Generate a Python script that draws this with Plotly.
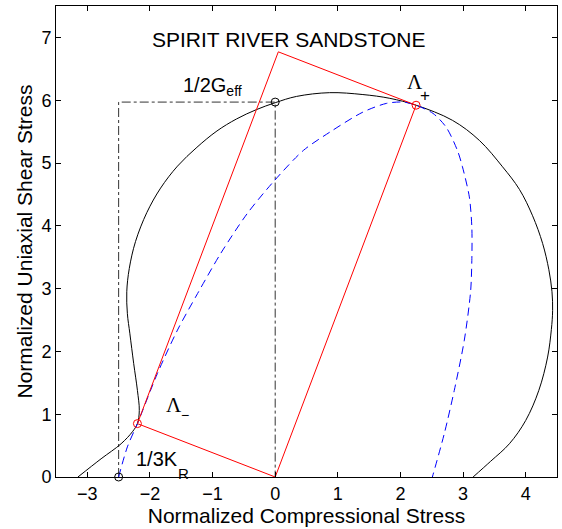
import plotly.graph_objects as go

# Black solid curve (yield / envelope)
black_x = [-3.15, -2.78, -2.46, -2.28, -2.20, -2.17, -2.20, -2.26, -2.32, -2.36, -2.37, -2.33,
           -2.23, -2.05, -1.83, -1.56, -1.25, -0.93, -0.62, -0.30, 0.00, 0.34, 0.87, 1.40, 1.83,
           2.25, 2.83, 3.26, 3.63, 3.90, 4.11, 4.27, 4.37, 4.42, 4.43, 4.41, 4.35, 4.21, 4.00,
           3.74, 3.44, 3.16]
black_y = [0.00, 0.29, 0.53, 0.72, 0.85, 1.06, 1.38, 1.81, 2.28, 2.60, 2.95, 3.32,
           3.75, 4.21, 4.60, 4.95, 5.25, 5.51, 5.70, 5.85, 5.96, 6.06, 6.12, 6.09, 6.03,
           5.92, 5.68, 5.36, 4.94, 4.58, 4.16, 3.72, 3.30, 2.95, 2.65, 2.35, 1.91, 1.38, 0.90,
           0.53, 0.25, 0.00]

# Blue dashed curve
blue_x = [-2.50, -2.36, -2.20, -1.88, -1.56, -1.24, -0.87, -0.45, -0.03, 0.45, 0.87, 1.40,
          1.78, 2.05, 2.25, 2.52, 2.73, 2.91, 2.99, 3.10, 3.14, 3.14, 3.12, 3.02, 2.86, 2.70, 2.51]
blue_y = [0.00, 0.48, 0.85, 1.65, 2.34, 2.92, 3.56, 4.19, 4.70, 5.20, 5.49, 5.81,
          5.95, 5.97, 5.92, 5.79, 5.57, 5.20, 4.94, 4.46, 3.98, 3.45, 2.95, 2.18, 1.38, 0.69, 0.00]

# Key points
lam_minus = (-2.20, 0.85)
lam_plus = (2.25, 5.92)
origin = (0.0, 0.0)
g_eff = (0.0, 5.97)
k_r = (-2.50, 0.0)

# Red parallelogram
red_x = [origin[0], lam_minus[0], lam_minus[0] + lam_plus[0], lam_plus[0], origin[0]]
red_y = [origin[1], lam_minus[1], lam_minus[1] + lam_plus[1], lam_plus[1], origin[1]]

# Dash-dot guide lines
guide_x = [k_r[0], k_r[0], g_eff[0], g_eff[0]]
guide_y = [k_r[1], g_eff[1], g_eff[1], 0.0]

fig = go.Figure()
fig.add_trace(go.Scatter(x=guide_x, y=guide_y, mode="lines",
                         line=dict(color="#333333", width=1, dash="dashdot")))
fig.add_trace(go.Scatter(x=black_x, y=black_y, mode="lines",
                         line=dict(color="black", width=1, shape="spline", smoothing=1.0)))
fig.add_trace(go.Scatter(x=blue_x, y=blue_y, mode="lines",
                         line=dict(color="#0000ff", width=1, dash="8px,5px", shape="spline", smoothing=0.8)))
fig.add_trace(go.Scatter(x=red_x, y=red_y, mode="lines",
                         line=dict(color="#ff0000", width=1)))
fig.add_trace(go.Scatter(x=[lam_minus[0], lam_plus[0]], y=[lam_minus[1], lam_plus[1]], mode="markers",
                         marker=dict(symbol="circle-open", size=8, color="#ff0000", line=dict(width=1))))
fig.add_trace(go.Scatter(x=[g_eff[0], k_r[0]], y=[g_eff[1], k_r[1]], mode="markers",
                         marker=dict(symbol="circle-open", size=8, color="black", line=dict(width=1)),
                         cliponaxis=False))

font = "Liberation Sans, Arial, Helvetica, sans-serif"
serif = "Liberation Serif, Times New Roman, serif"

annotations = [
    dict(x=0.22, y=6.97, text="SPIRIT RIVER SANDSTONE", xanchor="center", yanchor="middle",
         font=dict(size=21, family=font)),
    dict(x=-1.50, y=6.22, text="1/2G<sub>eff</sub>", xanchor="left", yanchor="middle",
         font=dict(size=20, family=font)),
    dict(x=2.08, y=6.29, text="Λ", xanchor="left", yanchor="middle",
         font=dict(size=21, family=serif)),
    dict(x=2.40, y=6.07, text="+", xanchor="center", yanchor="middle",
         font=dict(size=17, family=font)),
    dict(x=-1.78, y=1.15, text="Λ", xanchor="left", yanchor="middle",
         font=dict(size=21, family=serif)),
    dict(x=-1.44, y=0.98, text="−", xanchor="center", yanchor="middle",
         font=dict(size=14, family=font)),
    dict(x=-2.25, y=0.28, text="1/3K", xanchor="left", yanchor="middle",
         font=dict(size=20, family=font)),
    dict(x=-1.47, y=0.05, text="R", xanchor="center", yanchor="middle",
         font=dict(size=15, family=font)),
]
for a in annotations:
    a["showarrow"] = False
    a["xref"] = "x"
    a["yref"] = "y"

axis_common = dict(showline=True, linecolor="black", linewidth=1, mirror="ticks",
                   ticks="inside", ticklen=5, tickcolor="black", showgrid=False,
                   zeroline=False, tickfont=dict(size=18, family=font, color="black"))

fig.update_layout(
    width=562, height=529,
    margin=dict(l=56, r=5, t=6, b=52),
    plot_bgcolor="white", paper_bgcolor="white",
    showlegend=False,
    annotations=annotations,
    font=dict(family=font, color="black"),
    xaxis=dict(range=[-3.5, 4.5], dtick=1, tick0=0,
               title=dict(text="Normalized Compressional Stress", font=dict(size=21, family=font), standoff=2),
               **axis_common),
    yaxis=dict(range=[0, 7.5], dtick=1, tick0=0,
               title=dict(text="Normalized Uniaxial Shear Stress", font=dict(size=21, family=font), standoff=3),
               **axis_common),
)

fig.write_html("out.html", config={"displayModeBar": False},
               post_script="document.body.style.margin='0';document.body.style.padding='0';")
